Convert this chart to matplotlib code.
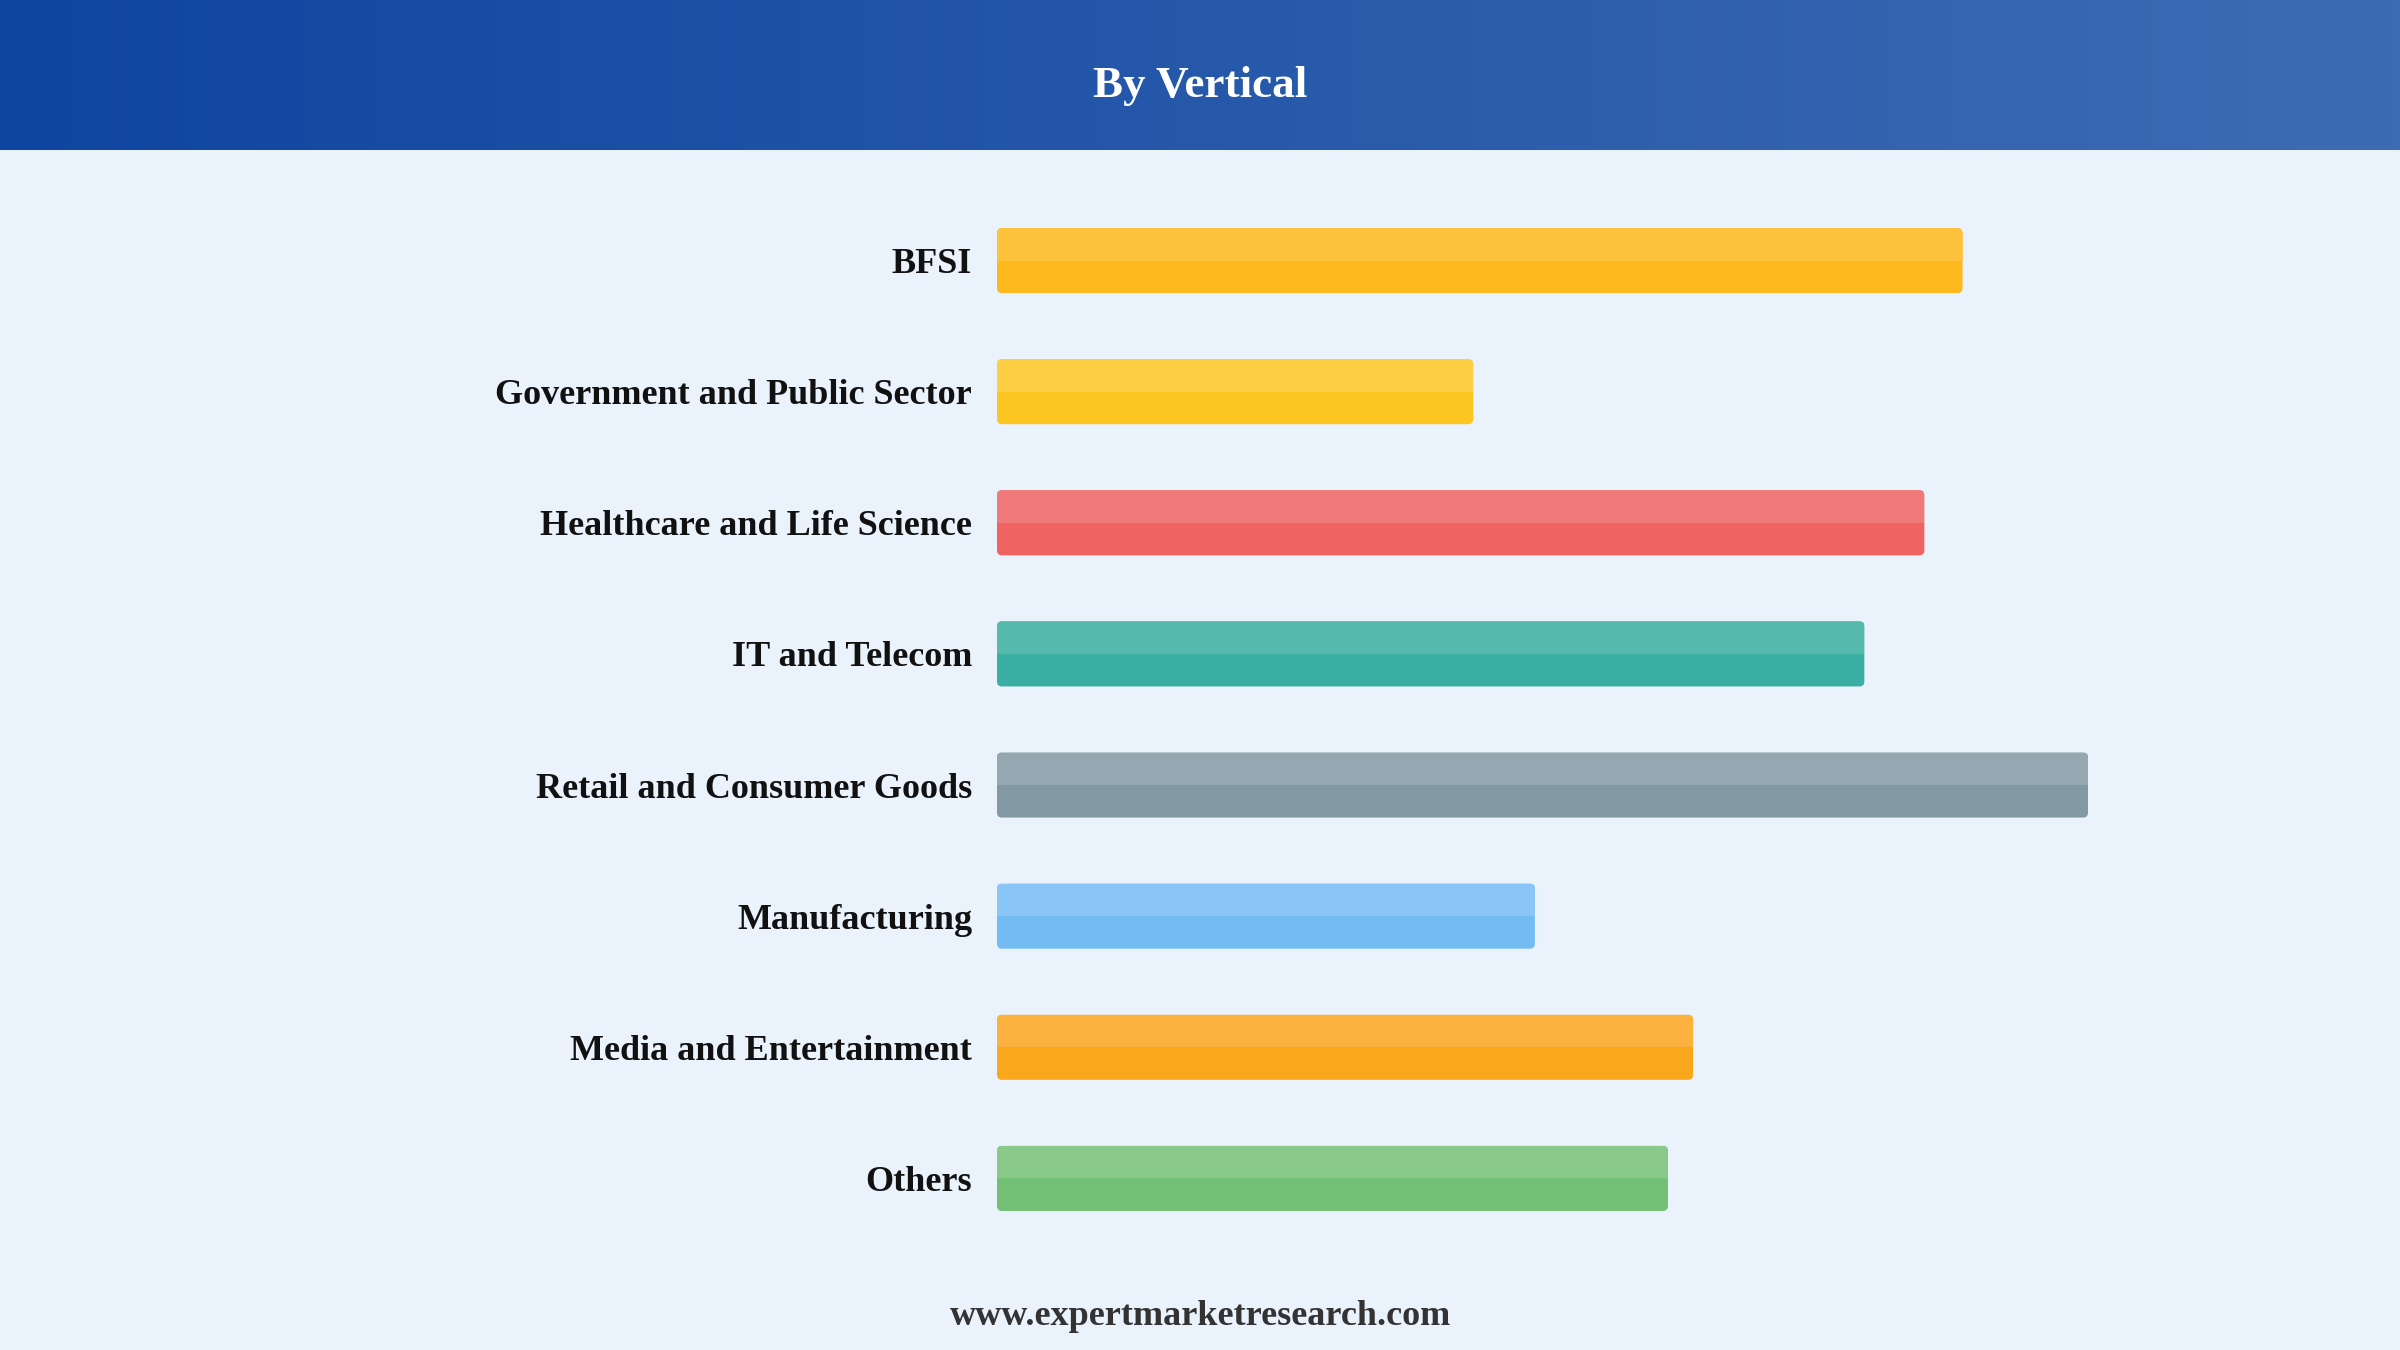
import numpy as np
import matplotlib
matplotlib.use("Agg")
import matplotlib.pyplot as plt
from matplotlib.patches import FancyBboxPatch, Rectangle
from matplotlib.colors import LinearSegmentedColormap

# ---- data ----
categories = ["BFSI", "Government and Public Sector", "Healthcare and Life Science",
              "IT and Telecom", "Retail and Consumer Goods", "Manufacturing",
              "Media and Entertainment", "Others"]
values = [17.7, 8.73, 17.0, 15.9, 20.0, 9.86, 12.76, 12.3]
top_colors = ["#FEC23C", "#FECE44", "#F07A79", "#56B9AD", "#95A7B0", "#89C5F6", "#FBB23F", "#89CA8B"]
bottom_colors = ["#FDB91E", "#FCC521", "#EF6461", "#3AAEA3", "#8399A3", "#72BBF3", "#FAA81B", "#72C075"]
title = "By Vertical"
footer = "www.expertmarketresearch.com"

W, H = 2400, 1350
BG = "#EAF2FB"
fig = plt.figure(figsize=(24, 13.5), dpi=100, facecolor=BG)

# header gradient
hdr_h = 150 / H
hax = fig.add_axes([0, 1 - hdr_h, 1, hdr_h])
cmap = LinearSegmentedColormap.from_list("hdr", ["#0E45A0", "#3E6CB4"])
hax.imshow(np.linspace(0, 1, 256).reshape(1, -1), aspect="auto", cmap=cmap, extent=[0, 1, 0, 1])
hax.set_axis_off()
fig.text(0.5, 1 - 97 / H, title, ha="center", va="baseline", color="white",
         fontsize=32.5, fontweight="bold", family="Liberation Serif")

# bar axes
left_px, top_px, bottom_px = 997, 195, 1244
px_per_unit = 54.55
xmax = 25
ax = fig.add_axes([left_px / W, 1 - bottom_px / H, xmax * px_per_unit / W, (bottom_px - top_px) / H])
ax.set_facecolor(BG)
ax.set_xlim(0, xmax)
n = len(categories)
ax.set_ylim(n - 0.5, -0.5)
for s in ax.spines.values():
    s.set_visible(False)
ax.set_xticks([])
ax.set_yticks(range(n))
ax.set_yticklabels(categories, fontsize=26, fontweight="bold", family="Liberation Serif",
                   color="#111111", va="center_baseline")
ax.tick_params(axis="y", length=0, pad=18)

bar_h = 0.496
px_per_y = (bottom_px - top_px) / n
r_px = 5
for i, (v, ct, cb) in enumerate(zip(values, top_colors, bottom_colors)):
    full = FancyBboxPatch((0, i - bar_h / 2), v, bar_h,
                          boxstyle=f"round,pad=0,rounding_size={r_px / px_per_unit}",
                          mutation_aspect=px_per_unit / px_per_y,
                          facecolor=cb, edgecolor="none", zorder=2)
    ax.add_patch(full)
    top = Rectangle((0, i - bar_h / 2), v, bar_h / 2, facecolor=ct, edgecolor="none", zorder=3)
    ax.add_patch(top)
    top.set_clip_path(full)

fig.text(0.5, 1 - 1325 / H, footer, ha="center", va="baseline", color="#333333",
         fontsize=26, fontweight="bold", family="Liberation Serif")

fig.savefig("out.png", dpi=100, facecolor=BG)
